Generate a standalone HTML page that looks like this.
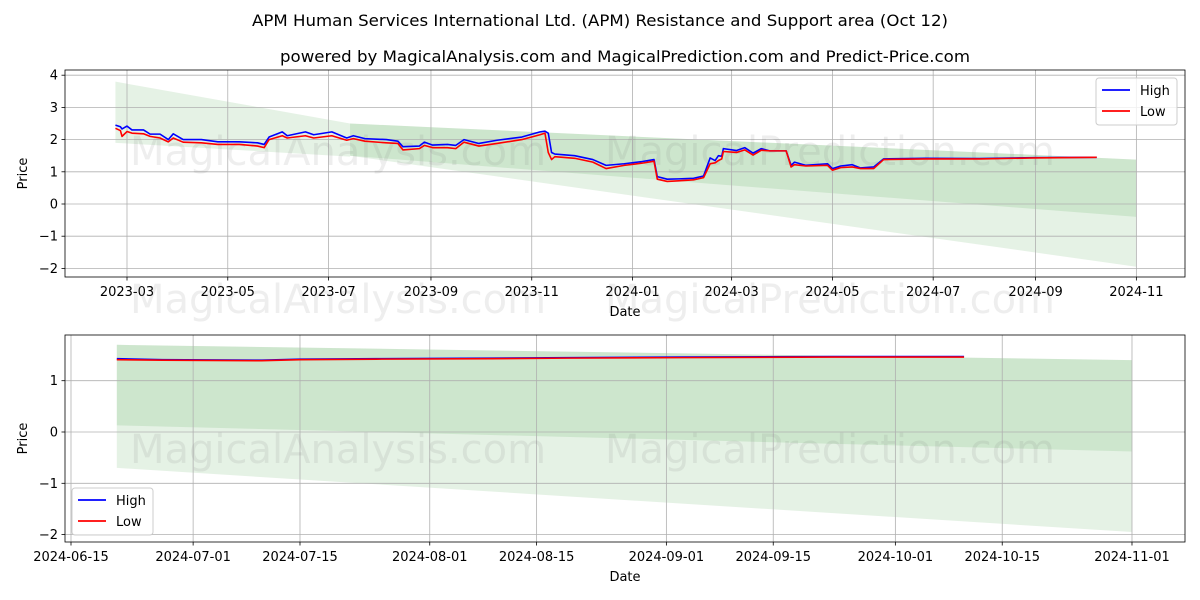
<!DOCTYPE html>
<html><head><meta charset="utf-8"><style>
body{margin:0;background:#fff}
svg{display:block;font-family:"DejaVu Sans","Liberation Sans",sans-serif}
</style></head><body>
<svg id="c" width="1200" height="600" viewBox="0 0 1200 600" xmlns="http://www.w3.org/2000/svg">
<text x="600" y="26" text-anchor="middle" font-size="16" textLength="696" lengthAdjust="spacingAndGlyphs">APM Human Services International Ltd. (APM) Resistance and Support area (Oct 12)</text>
<text x="625" y="62" text-anchor="middle" font-size="16" textLength="690" lengthAdjust="spacingAndGlyphs">powered by MagicalAnalysis.com and MagicalPrediction.com and Predict-Price.com</text>
<g id="top"></g><g id="bot"></g>
</svg>
<script>
// ---- top chart data (days since 2023-03-01) ----
const topDays=[-7,-4,-3,0,3,10,14,20,25,28,34,45,55,68,79,83,86,94,97,108,113,124,133,137,144,157,164,167,177,180,185,194,199,204,213,224,239,250,253,255,257,259,271,282,290,301,312,319,321,327,334,343,349,353,356,358,360,361,369,374,379,384,389,399,402,404,411,424,427,432,439,444,452,458,483,516,549,587];
const topHigh=[2.45,2.40,2.33,2.42,2.30,2.30,2.17,2.17,2.0,2.18,2.0,2.0,1.93,1.93,1.9,1.85,2.08,2.24,2.12,2.24,2.15,2.24,2.05,2.12,2.03,2.0,1.95,1.78,1.8,1.92,1.83,1.85,1.82,2.0,1.88,1.98,2.08,2.24,2.26,2.2,1.6,1.55,1.5,1.38,1.2,1.25,1.32,1.38,0.85,0.77,0.78,0.8,0.87,1.43,1.35,1.5,1.48,1.72,1.66,1.75,1.58,1.72,1.65,1.65,1.2,1.3,1.2,1.25,1.1,1.18,1.22,1.12,1.15,1.4,1.42,1.41,1.44,1.45];
const topLow=[2.35,2.28,2.10,2.25,2.2,2.18,2.10,2.05,1.93,2.05,1.92,1.9,1.85,1.85,1.8,1.75,2.0,2.12,2.05,2.12,2.05,2.12,1.98,2.03,1.95,1.9,1.88,1.68,1.72,1.82,1.75,1.75,1.72,1.92,1.8,1.88,2.0,2.15,2.2,1.6,1.38,1.47,1.42,1.3,1.1,1.2,1.27,1.33,0.77,0.7,0.72,0.75,0.82,1.25,1.28,1.35,1.4,1.63,1.6,1.68,1.52,1.67,1.65,1.65,1.15,1.22,1.18,1.2,1.05,1.13,1.15,1.1,1.1,1.38,1.4,1.4,1.43,1.45];
const topBandA={days:[-7,135],top:[3.8,2.5],bottom:[1.9,1.47]};
const topBandB={days:[135,611],top:[2.5,1.38],outer:[1.5,-1.95],inner:[1.5,-0.4]};
const topYTicks=[4,3,2,1,0,-1,-2];
const topXTicks=["2023-03","2023-05","2023-07","2023-09","2023-11","2024-01","2024-03","2024-05","2024-07","2024-09","2024-11"];
const topXTickDays=[0,61,122,184,245,306,366,427,488,550,611];
// ---- bottom chart data (days since 2024-06-15) ----
const botDays=[6,12,25,30,40,55,65,80,100,117];
const botHigh=[1.43,1.41,1.40,1.42,1.43,1.44,1.45,1.46,1.47,1.47];
const botLow=[1.41,1.40,1.39,1.41,1.42,1.43,1.44,1.45,1.46,1.46];
const botBand={days:[6,139],top:[1.7,1.4],outer:[-0.7,-1.95],inner:[0.13,-0.38]};
const botYTicks=[1,0,-1,-2];
const botXTicks=["2024-06-15","2024-07-01","2024-07-15","2024-08-01","2024-08-15","2024-09-01","2024-09-15","2024-10-01","2024-10-15","2024-11-01"];
const botXTickDays=[0,16,30,47,61,78,92,108,122,139];

const NS="http://www.w3.org/2000/svg";
function mk(p,t,a){const e=document.createElementNS(NS,t);for(const k in a)e.setAttribute(k,a[k]);p.appendChild(e);return e;}
function panel(g,cfg){
  const {L,R,T,B,x,y}=cfg;
  const poly=(xs,tops,bots,fill,name)=>{
    const pts=[[x(xs[0]),y(tops[0])],[x(xs[1]),y(tops[1])],[x(xs[1]),y(bots[1])],[x(xs[0]),y(bots[0])]];
    const p=mk(g,"polygon",{points:pts.map(q=>q.join(",")).join(" "),fill:fill});
    
    
  };
  cfg.bands(poly);
  cfg.yt.forEach(v=>{const l=mk(g,"line",{x1:L,x2:R,y1:y(v),y2:y(v),stroke:"#b0b0b0","stroke-width":0.8});
    
    mk(g,"line",{x1:L-3.5,x2:L,y1:y(v),y2:y(v),stroke:"#000","stroke-width":0.8});
    const t=mk(g,"text",{x:L-7,y:y(v)+4.5,"text-anchor":"end","font-size":13});t.textContent=v<0?"\u2212"+(-v):v;
    });
  cfg.xtd.forEach((d,i)=>{const xx=x(d);const l=mk(g,"line",{x1:xx,x2:xx,y1:T,y2:B,stroke:"#b0b0b0","stroke-width":0.8});
    
    mk(g,"line",{x1:xx,x2:xx,y1:B,y2:B+3.5,stroke:"#000","stroke-width":0.8});
    const t=mk(g,"text",{x:xx,y:B+19,"text-anchor":"middle","font-size":13});t.textContent=cfg.xt[i];
    });
  cfg.wm.forEach(w=>{const t=mk(g,"text",{x:w[0],y:w[1],"font-size":40,fill:"rgba(120,120,120,0.13)"});t.textContent=w[2];
    });
  const line=(ds,vs,col,name)=>{const p=mk(g,"polyline",{points:ds.map((d,i)=>x(d)+","+y(vs[i])).join(" "),fill:"none",stroke:col,"stroke-width":1.6,"stroke-linejoin":"round"});
    };
  line(cfg.days,cfg.high,"#0000ff","high-line");
  line(cfg.days,cfg.low,"#ff0000","low-line");
  const fr=mk(g,"rect",{x:L,y:T,width:R-L,height:B-T,fill:"none",stroke:"#000","stroke-width":0.8});
  
  const yl=mk(g,"text",{x:0,y:0,transform:`translate(27,${(T+B)/2}) rotate(-90)`,"text-anchor":"middle","font-size":13});yl.textContent="Price";
  
  const xl=mk(g,"text",{x:(L+R)/2,y:B+39,"text-anchor":"middle","font-size":13});xl.textContent="Date";
  
  const [lx,ly]=cfg.leg;
  const lg=mk(g,"g",{});
  mk(lg,"rect",{x:lx,y:ly,width:81,height:47,rx:3,fill:"rgba(255,255,255,0.8)",stroke:"#ccc","stroke-width":1});
  [["High","#0000ff"],["Low","#ff0000"]].forEach((e,i)=>{
    const eg=mk(lg,"g",{});
    mk(eg,"line",{x1:lx+6,x2:lx+34,y1:ly+12+i*21,y2:ly+12+i*21,stroke:e[1],"stroke-width":1.8});
    const t=mk(eg,"text",{x:lx+44,y:ly+17+i*21,"font-size":13});t.textContent=e[0];});
}
panel(document.getElementById("top"),{L:65,R:1185,T:70,B:277,
  x:d=>127+d*1.652, y:v=>204-v*32.2,
  yt:topYTicks,xt:topXTicks,xtd:topXTickDays,days:topDays,high:topHigh,low:topLow,leg:[1096,78],
  wm:[[130,313,"MagicalAnalysis.com"],[605,313,"MagicalPrediction.com"],[130,165,"MagicalAnalysis.com"],[605,165,"MagicalPrediction.com"]],
  bands:poly=>{poly(topBandA.days,topBandA.top,topBandA.bottom,"rgba(0,128,0,0.1)","resistance-band-early");
    poly(topBandB.days,topBandB.top,topBandB.outer,"rgba(0,128,0,0.1)","support-band-outer");
    poly(topBandB.days,topBandB.top,topBandB.inner,"rgba(0,128,0,0.1)","support-band-inner");}});
panel(document.getElementById("bot"),{L:65,R:1185,T:335,B:542,
  x:d=>71+d*7.633, y:v=>432-v*51.3,
  yt:botYTicks,xt:botXTicks,xtd:botXTickDays,days:botDays,high:botHigh,low:botLow,leg:[72,488],
  wm:[[130,463,"MagicalAnalysis.com"],[605,463,"MagicalPrediction.com"]],
  bands:poly=>{poly(botBand.days,botBand.top,botBand.outer,"rgba(0,128,0,0.1)","band-outer");
    poly(botBand.days,botBand.top,botBand.inner,"rgba(0,128,0,0.1)","band-inner");}});
</script>
</body></html>
